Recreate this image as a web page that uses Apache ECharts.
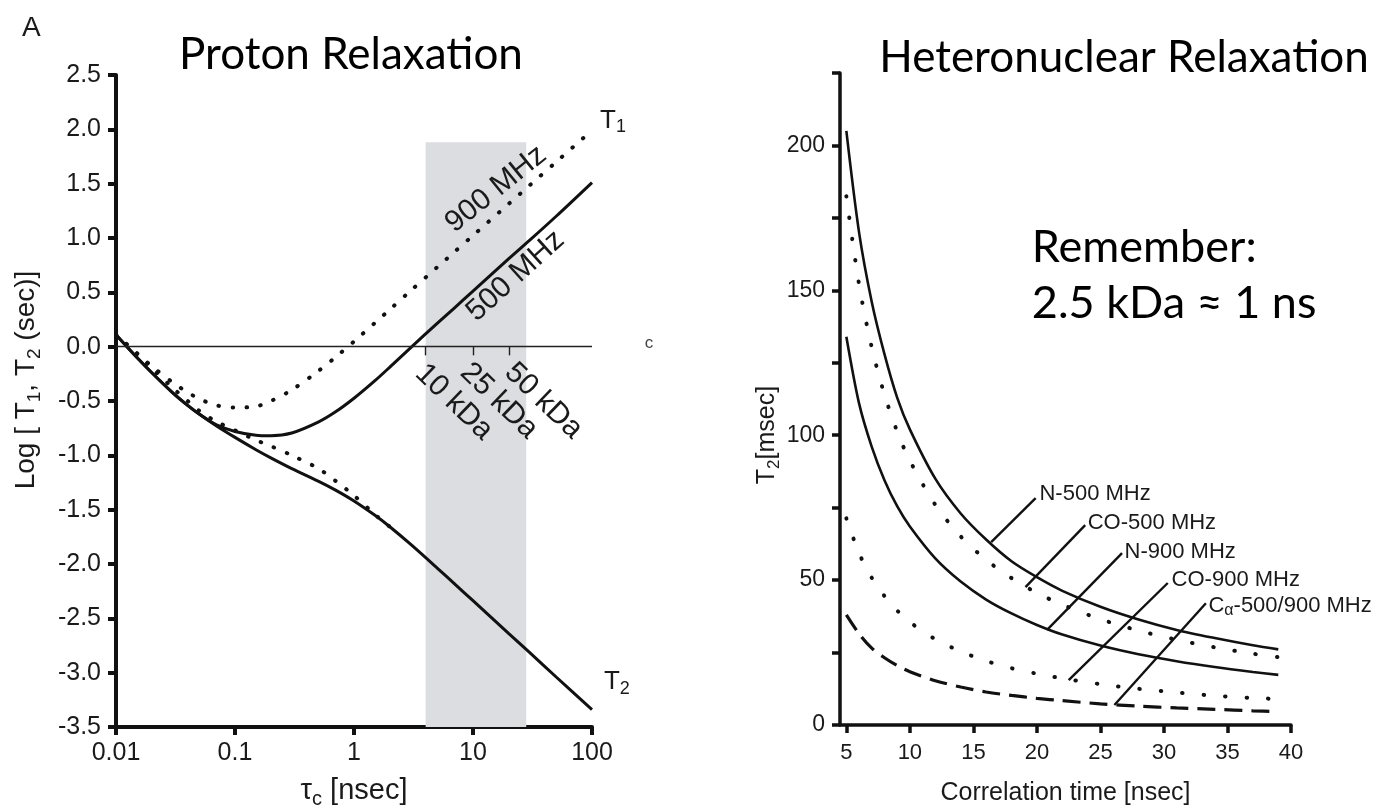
<!DOCTYPE html>
<html>
<head>
<meta charset="utf-8">
<script src="https://cdn.jsdelivr.net/npm/echarts@6/dist/echarts.min.js"></script>
<style>
  html, body { margin: 0; padding: 0; background: #fff; }
  #chart { width: 1385px; height: 806px; }
</style>
</head>
<body>
<div id="chart"></div>
<script>
// left panel: log10 of T1 / T2 (sec) against tau_c (nsec)
const tauC = [0.01, 0.015, 0.02, 0.03, 0.04, 0.05, 0.07, 0.1, 0.15, 0.2, 0.3, 0.5, 0.7, 1, 1.5, 2, 3, 5, 7, 10, 20, 30, 50, 100];
const t1At500 = [0.11, -0.10, -0.24, -0.425, -0.54, -0.62, -0.72, -0.78, -0.815, -0.82, -0.795, -0.695, -0.60, -0.475, -0.313, -0.188, -0.008, 0.214, 0.358, 0.511, 0.81, 0.98, 1.20, 1.51];
const t2At500 = [0.11, -0.10, -0.24, -0.425, -0.54, -0.62, -0.73, -0.835, -0.948, -1.023, -1.122, -1.237, -1.32, -1.42, -1.552, -1.657, -1.82, -2.037, -2.183, -2.338, -2.64, -2.815, -3.04, -3.34];
const t1At900 = [0.11, -0.06, -0.18, -0.33, -0.42, -0.48, -0.54, -0.56, -0.55, -0.50, -0.398, -0.225, -0.096, 0.048, 0.219, 0.342, 0.516, 0.731, 0.873, 1.023, 1.315, 1.486, 1.70, 1.99];
const t2At900 = [0.11, -0.07, -0.20, -0.38, -0.50, -0.59, -0.69, -0.77, -0.86, -0.915, -1.0, -1.12, -1.235, -1.37, -1.545, -1.657];
const shadedTau = [4, 28];          // grey window, nsec
const shadedTop = 1.88;
const kdaTau = [4, 10, 20];
const kdaNames = ["10 kDa", "25 kDa", "50 kDa"];

// right panel: heteronuclear T2 (msec) against correlation time (nsec)
const corrTime = [5, 6, 7, 8, 9, 10, 12, 14, 16, 18, 20, 22, 25, 28, 31, 34, 37, 39];
const n500 = [205, 170, 146, 128, 113, 102, 85, 73, 64, 56.5, 51, 46.3, 40.8, 36.4, 32.8, 30, 27.5, 26.1];
const co500 = [182.5, 152, 130.3, 114, 101.3, 91.2, 76, 65.1, 57, 50.7, 45.6, 41.5, 36.5, 32.6, 29.4, 26.8, 24.6, 23.4];
const n900 = [134, 111, 96, 84.5, 75.5, 68.5, 57.5, 49.5, 43.3, 38.5, 34.5, 31.2, 27.4, 24.4, 22, 20, 18.3, 17.3];
const co900 = [71.3, 59.3, 50.8, 44.5, 39.5, 35.5, 29.6, 25.4, 22.1, 19.6, 17.7, 16.1, 14.1, 12.5, 11.2, 10.1, 9.3, 9.0];
const calpha = [38, 31.5, 26.5, 23.2, 20.5, 18.4, 15.3, 13.1, 11.4, 10.2, 9.2, 8.4, 7.3, 6.5, 5.9, 5.4, 4.9, 4.6];
const corrTicks = [5, 10, 15, 20, 25, 30, 35, 40];
const curveNames = ["N-500 MHz", "CO-500 MHz", "N-900 MHz", "CO-900 MHz", "Cα-500/900 MHz"];
// leader lines: from a point on the curve up to its label
const leaderFrom = [[16.4, 63.1], [19.1, 47.6], [20.8, 32.8], [22.5, 15.5], [26.1, 6.9]];
const leaderTo = [[19.9, 78.3], [23.8, 69], [26.7, 59.3], [30.3, 49], [33.3, 42]];

const FONT = '"Liberation Sans", Arial, Helvetica, sans-serif';
const TITLE_FONT = 'Lato, "Noto Sans", "DejaVu Sans", sans-serif';
const INK = "#111";

const pairs = (xs, ys) => ys.map((y, i) => [xs[i], y]);
const dotted = (w, gap) => ({ color: INK, width: w, type: [0.5, gap], cap: "round" });

const chart = echarts.init(document.getElementById("chart"));

const option = {
  animation: false,
  backgroundColor: "#fff",
  grid: [
    { left: 116, top: 75, width: 476, height: 652, outerBoundsMode: "none", containLabel: false },
    { left: 840, top: 73, width: 451, height: 652, outerBoundsMode: "none", containLabel: false },
  ],
  xAxis: [
    {
      gridIndex: 0,
      type: "log",
      logBase: 10,
      min: 0.01,
      max: 100,
      axisLine: { onZero: false, lineStyle: { color: INK, width: 4 } },
      axisTick: { length: 8, lineStyle: { color: INK, width: 4 } },
      axisLabel: {
        color: "#1a1a1a", fontSize: 25, fontFamily: FONT, margin: 14,
        formatter: (v) => {
          const e = Math.round(Math.log10(v));
          return e < 0 ? v.toFixed(-e) : String(Math.round(v));
        },
      },
      splitLine: { show: false },
      name: "{a|τ}{b|c}{a| [nsec]}",
      nameLocation: "middle",
      nameGap: 46,
      nameTextStyle: {
        rich: {
          a: { fontSize: 29, fontFamily: FONT, color: "#1a1a1a", lineHeight: 36 },
          b: { fontSize: 20, fontFamily: FONT, color: "#1a1a1a", lineHeight: 22, verticalAlign: "bottom" },
        },
      },
    },
    {
      gridIndex: 1,
      type: "value",
      min: 4.5,
      max: 40,
      axisLine: { onZero: false, lineStyle: { color: INK, width: 3.5 } },
      axisTick: { length: 8, customValues: corrTicks, lineStyle: { color: INK, width: 3.5 } },
      axisLabel: { customValues: corrTicks, color: "#1a1a1a", fontSize: 22, fontFamily: FONT, margin: 17 },
      splitLine: { show: false },
      name: "Correlation time [nsec]",
      nameLocation: "middle",
      nameGap: 56,
      nameTextStyle: { fontSize: 25, fontFamily: FONT, color: "#1a1a1a" },
    },
  ],
  yAxis: [
    {
      gridIndex: 0,
      type: "value",
      min: -3.5,
      max: 2.5,
      interval: 0.5,
      axisLine: { show: true, onZero: false, lineStyle: { color: INK, width: 4 } },
      axisTick: { show: true, length: 8, lineStyle: { color: INK, width: 4 } },
      axisLabel: { color: "#1a1a1a", fontSize: 25, fontFamily: FONT, margin: 15, formatter: (v) => v.toFixed(1) },
      splitLine: { show: false },
      name: "{a|Log [ T}{b|1}{a|, T}{b|2}{a| (sec)]}",
      nameLocation: "middle",
      nameRotate: 90,
      nameGap: 72,
      nameTextStyle: {
        padding: [0, 0, 0, 42],
        rich: {
          a: { fontSize: 28, fontFamily: FONT, color: "#1a1a1a", lineHeight: 36 },
          b: { fontSize: 19, fontFamily: FONT, color: "#1a1a1a", lineHeight: 22, verticalAlign: "bottom" },
        },
      },
    },
    {
      gridIndex: 1,
      type: "value",
      min: 0,
      max: 225,
      interval: 25,
      axisLine: { show: true, onZero: false, lineStyle: { color: INK, width: 3.5 } },
      axisTick: { show: true, length: 8, lineStyle: { color: INK, width: 3.5 } },
      axisLabel: {
        color: "#1a1a1a", fontSize: 23, fontFamily: FONT, margin: 15,
        formatter: (v) => (v % 50 === 0 ? String(v) : ""),
      },
      splitLine: { show: false },
      name: "{a|T}{b|2}{a|[msec]}",
      nameLocation: "middle",
      nameRotate: 90,
      nameGap: 42,
      nameTextStyle: {
        padding: [0, 72, 0, 0],
        rich: {
          a: { fontSize: 25, fontFamily: FONT, color: "#1a1a1a", lineHeight: 32 },
          b: { fontSize: 17, fontFamily: FONT, color: "#1a1a1a", lineHeight: 20, verticalAlign: "bottom" },
        },
      },
    },
  ],
  series: [
    {
      name: "band",
      type: "line",
      xAxisIndex: 0, yAxisIndex: 0,
      z: 1,
      data: [[shadedTau[0], -3.5]],
      showSymbol: false,
      lineStyle: { width: 0 },
      silent: true,
      markArea: {
        silent: true,
        itemStyle: { color: "#dcdde0" },
        data: [[{ coord: [shadedTau[0], -3.5] }, { coord: [shadedTau[1], shadedTop] }]],
      },
      markLine: {
        silent: true,
        symbol: ["none", "none"],
        label: { show: false },
        lineStyle: { color: "#222", width: 1.4, type: "solid" },
        data: [[{ coord: [0.01, 0] }, { coord: [100, 0] }]].concat(
          kdaTau.map((t) => [{ coord: [t, 0] }, { coord: [t, -0.08] }])
        ),
      },
    },
    {
      name: "T1 500 MHz", type: "line", xAxisIndex: 0, yAxisIndex: 0, z: 3,
      data: pairs(tauC, t1At500), showSymbol: false, smooth: 0.3,
      lineStyle: { color: INK, width: 3 },
    },
    {
      name: "T2 500 MHz", type: "line", xAxisIndex: 0, yAxisIndex: 0, z: 3,
      data: pairs(tauC, t2At500), showSymbol: false, smooth: 0.3,
      lineStyle: { color: INK, width: 3 },
    },
    {
      name: "T1 900 MHz", type: "line", xAxisIndex: 0, yAxisIndex: 0, z: 3,
      data: pairs(tauC, t1At900), showSymbol: false, smooth: 0.3,
      lineStyle: dotted(4, 13.5),
    },
    {
      name: "T2 900 MHz", type: "line", xAxisIndex: 0, yAxisIndex: 0, z: 3,
      data: pairs(tauC, t2At900), showSymbol: false, smooth: 0.3,
      lineStyle: dotted(4, 13.5),
    },
    {
      name: curveNames[0], type: "line", xAxisIndex: 1, yAxisIndex: 1,
      data: pairs(corrTime, n500), showSymbol: false, smooth: 0.3,
      lineStyle: { color: INK, width: 2.6 },
    },
    {
      name: curveNames[1], type: "line", xAxisIndex: 1, yAxisIndex: 1,
      data: pairs(corrTime, co500), showSymbol: false, smooth: 0.3,
      lineStyle: dotted(4, 21),
    },
    {
      name: curveNames[2], type: "line", xAxisIndex: 1, yAxisIndex: 1,
      data: pairs(corrTime, n900), showSymbol: false, smooth: 0.3,
      lineStyle: { color: INK, width: 2.6 },
    },
    {
      name: curveNames[3], type: "line", xAxisIndex: 1, yAxisIndex: 1,
      data: pairs(corrTime, co900), showSymbol: false, smooth: 0.3,
      lineStyle: dotted(4, 21),
    },
    {
      name: curveNames[4], type: "line", xAxisIndex: 1, yAxisIndex: 1,
      data: pairs(corrTime, calpha), showSymbol: false, smooth: 0.3,
      lineStyle: { color: INK, width: 3.2, type: [18, 9] },
      markLine: {
        silent: true,
        symbol: ["none", "none"],
        label: { show: false },
        lineStyle: { color: INK, width: 2.4, type: "solid" },
        data: leaderFrom.map((p, i) => [{ coord: p }, { coord: leaderTo[i] }]),
      },
    },
  ],
};
chart.setOption(option);

// text annotations, anchored in data coordinates
const deg = (d) => (d * Math.PI) / 180;
function txt(grid, at, text, opts) {
  const p = chart.convertToPixel({ gridIndex: grid }, at);
  return {
    type: "text",
    x: p[0], y: p[1],
    rotation: deg(opts.rot || 0),
    z: 100,
    style: {
      text: text,
      fill: opts.color || "#1a1a1a",
      fontSize: opts.size,
      fontFamily: opts.family || FONT,
      align: opts.align || "center",
      verticalAlign: opts.valign || "middle",
      textAlign: opts.align || "center",
      textVerticalAlign: opts.valign || "middle",
      rich: opts.rich,
    },
  };
}
const subRich = (size) => ({
  a: { fontSize: size, fontFamily: FONT, fill: "#1a1a1a", color: "#1a1a1a", lineHeight: size + 6 },
  b: { fontSize: Math.round(size * 0.7), fontFamily: FONT, fill: "#1a1a1a", color: "#1a1a1a", lineHeight: size * 0.75, verticalAlign: "bottom" },
});

const graphics = [
  { type: "text", x: 22, y: 14, style: { text: "A", fontSize: 28, fontFamily: FONT, fill: "#1a1a1a" } },
  { type: "text", x: 351, y: 55, style: { text: "Proton Relaxation", fontSize: 44, fontFamily: TITLE_FONT, fill: "#000", align: "center", verticalAlign: "middle" } },
  { type: "text", x: 1124, y: 58, style: { text: "Heteronuclear Relaxation", fontSize: 44, fontFamily: TITLE_FONT, fill: "#000", align: "center", verticalAlign: "middle" } },
  txt(0, [117, 2.23], "{a|T}{b|1}", { size: 26, align: "left", valign: "top", rich: subRich(26) }),
  txt(0, [126, -2.94], "{a|T}{b|2}", { size: 26, align: "left", valign: "top", rich: subRich(26) }),
  txt(0, [15.6, 1.45], "900 MHz", { size: 30, rot: 39 }),
  txt(0, [22.8, 0.65], "500 MHz", { size: 30, rot: 42 }),
  txt(0, [301, 0.03], "c", { size: 17, color: "#444" }),
  txt(1, [19.6, 164.8], "Remember:", { size: 45, align: "left", family: TITLE_FONT, color: "#000" }),
  txt(1, [19.6, 145.5], "2.5 kDa ≈ 1 ns", { size: 45, align: "left", family: TITLE_FONT, color: "#000" }),
];
const kdaAt = [[6.9, -0.51], [16.5, -0.50], [39.1, -0.50]];
kdaNames.forEach((n, i) => graphics.push(txt(0, kdaAt[i], n, { size: 30, rot: -44 })));

const labelAt = [[20.2, 79.7], [24.0, 69.6], [26.9, 59.7], [30.6, 50], [33.5, 41.2]];
curveNames.forEach((n, i) => {
  if (n.startsWith("Cα")) {
    graphics.push(txt(1, labelAt[i], "{a|C}{b|α}{a|-500/900 MHz}", {
      size: 22, align: "left",
      rich: {
        a: { fontSize: 22, fontFamily: FONT, fill: "#1a1a1a", color: "#1a1a1a", lineHeight: 26 },
        b: { fontSize: 16, fontFamily: FONT, fill: "#1a1a1a", color: "#1a1a1a", lineHeight: 16, verticalAlign: "bottom" },
      },
    }));
  } else {
    graphics.push(txt(1, labelAt[i], n, { size: 22, align: "left" }));
  }
});

chart.setOption({ graphic: graphics });
</script>
</body>
</html>
